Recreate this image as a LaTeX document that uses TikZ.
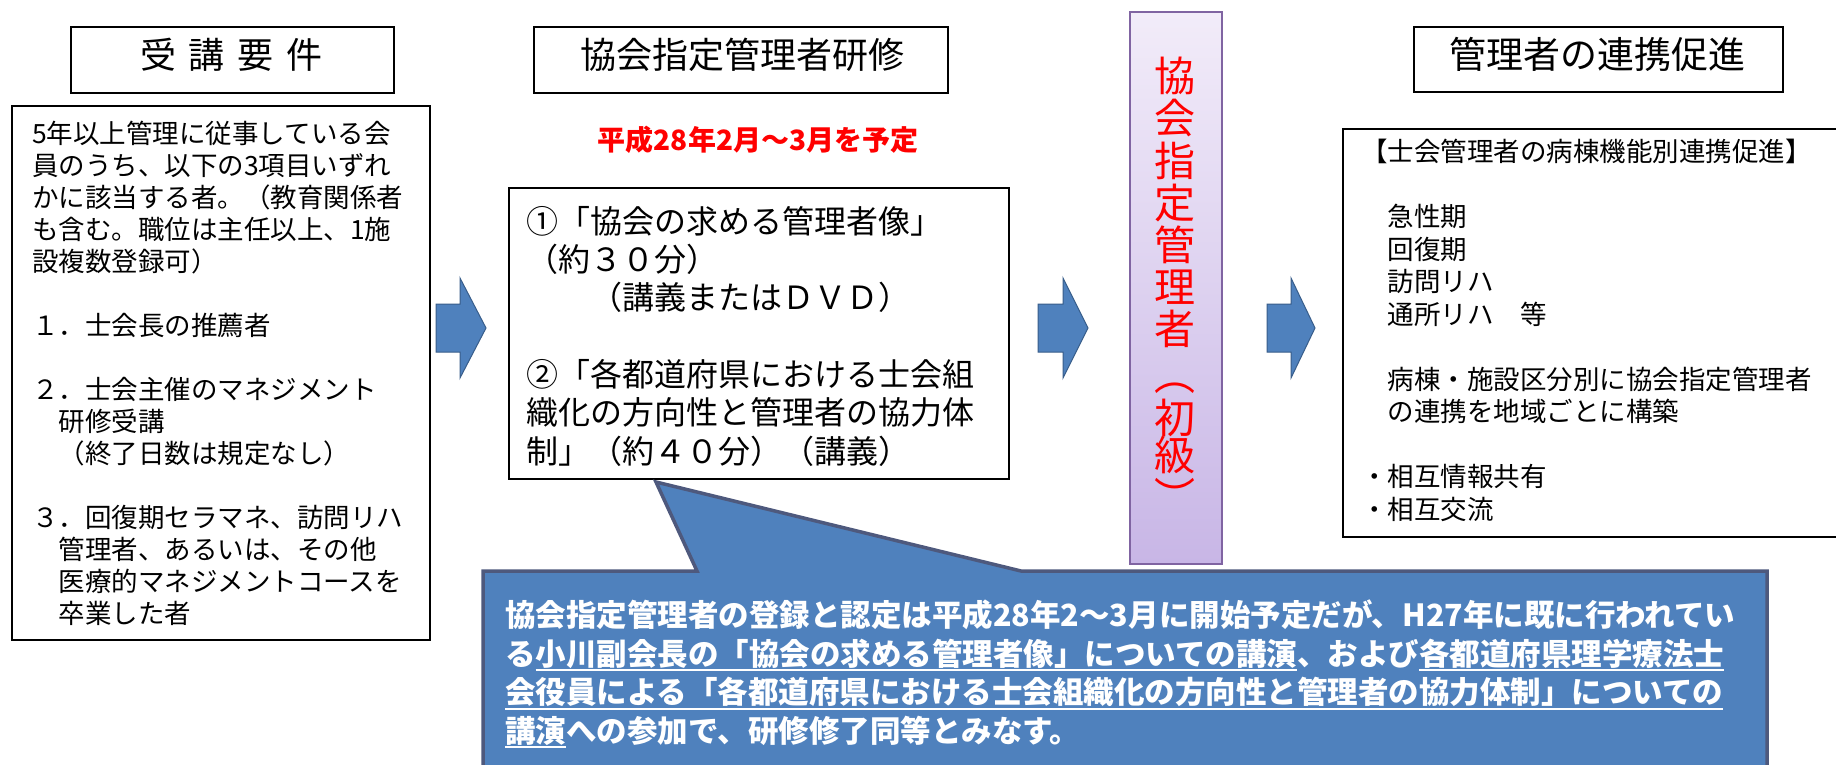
\documentclass[tikz,border=0pt]{standalone}
\usepackage{fontspec}
\newfontfamily\jp{Noto Sans CJK JP}
\usetikzlibrary{shadings}
\definecolor{arrowblue}{HTML}{4F81BD}
\definecolor{arrowedge}{HTML}{385D8A}
\definecolor{calloutfill}{HTML}{4F81BD}
\definecolor{calloutedge}{RGB}{78,89,125}
\definecolor{bartop}{HTML}{F2ECF9}
\definecolor{barbottom}{HTML}{C8B6E6}
\definecolor{baredge}{HTML}{8064A2}
\definecolor{datered}{HTML}{FF0000}
\newsavebox\ulbox
\newcommand\whiteul[1]{\sbox\ulbox{#1}\rlap{\rule[-6pt]{\wd\ulbox}{2pt}}\usebox\ulbox}
\newcommand\blockarrow[3]{%
  \draw[blockarrowstyle] (#1,304) -- (#2,304) -- (#2,278) -- (#3,328) -- (#2,378) -- (#2,352) -- (#1,352) -- cycle;}
\tikzset{
  framebox/.style={draw=black, line width=2.2pt, fill=white, inner sep=0pt, anchor=north west},
  titletext/.style={inner sep=0pt, font=\jp\fontsize{36}{36}\selectfont},
  bodytext/.style={inner sep=0pt, anchor=north west, align=left},
  blockarrowstyle/.style={fill=arrowblue, draw=arrowedge, line width=1pt, line join=miter},
  vchar/.style={inner sep=0pt, anchor=base, text=datered, font=\jp\fontsize{41}{41}\selectfont},
  calloutstyle/.style={fill=calloutfill, draw=calloutedge, line width=3.5pt, line join=miter},
}
\begin{document}
\begin{tikzpicture}[x=1pt,y=-1pt]
\useasboundingbox (0,0) rectangle (1836,765);
\clip (0,0) rectangle (1836,765);
\fill[white] (0,0) rectangle (1836,765);

% titles
\node[framebox, minimum width=323pt, minimum height=66pt] (t1) at (70,26) {};
\node[titletext] (t1txt) at (231.5,55) {受\hspace{13pt}講\hspace{13pt}要\hspace{13pt}件};
\node[framebox, minimum width=414pt, minimum height=66pt] (t2) at (533,26) {};
\node[titletext] (t2txt) at (742,55) {協会指定管理者研修};
\node[framebox, minimum width=369pt, minimum height=65pt] (t4) at (1413,26) {};
\node[titletext, font=\jp\fontsize{37}{37}\selectfont] (t4txt) at (1597,54) {管理者の連携促進};

% left box
\node[framebox, minimum width=418pt, minimum height=534pt] (req) at (11,105) {};
\node[bodytext, font=\jp\fontsize{26.5}{32}\selectfont] (reqtxt) at (32,121) {%
5年以上管理に従事している会\\
員のうち、以下の3項目いずれ\\
かに該当する者。（教育関係者\\
も含む。職位は主任以上、1施\\
設複数登録可）\\[32pt]
１．士会長の推薦者\\[32pt]
２．士会主催のマネジメント\\
　研修受講\\
　（終了日数は規定なし）\\[32pt]
３．回復期セラマネ、訪問リハ\\
　管理者、あるいは、その他\\
　医療的マネジメントコースを\\
　卒業した者};

% date
\node[inner sep=0pt, text=datered, font=\jp\bfseries\fontsize{28}{28}\selectfont] (date) at (758,140) {平成28年2月～3月を予定};

% middle box
\node[framebox, minimum width=500pt, minimum height=291pt] (mid) at (508,187) {};
\node[bodytext, font=\jp\fontsize{32}{38.3}\selectfont] (midtxt) at (526,206) {%
①「協会の求める管理者像」\\
（約３０分）\\
　　（講義またはＤＶＤ）\\[38.3pt]
②「各都道府県における士会組\\
織化の方向性と管理者の協力体\\
制」（約４０分）（講義）};

% arrows
\blockarrow{436}{460}{486}
\blockarrow{1038}{1063}{1088}
\blockarrow{1267}{1291}{1315}

% purple bar
\node[draw=baredge, line width=2pt, top color=bartop, bottom color=barbottom, anchor=north west, inner sep=0pt, minimum width=92pt, minimum height=552pt] (bar) at (1129,11) {};
\foreach \ch/\yy [count=\i] in {協/92,会/134,指/176,定/218,管/260,理/302,者/344,︵/390,初/433,級/470,︶/512}
  \node[vchar] (v\i) at (1175,\yy) {\ch};

% right box
\node[framebox, minimum width=520pt, minimum height=408pt] (coop) at (1342,128) {};
\node[bodytext, font=\jp\fontsize{26.5}{32.5}\selectfont] (cooptxt) at (1361,139) {%
【士会管理者の病棟機能別連携促進】\\[32.5pt]
　急性期\\
　回復期\\
　訪問リハ\\
　通所リハ　等\\[32.5pt]
　病棟・施設区分別に協会指定管理者\\
　の連携を地域ごとに構築\\[32.5pt]
・相互情報共有\\
・相互交流};

% callout
\draw[calloutstyle] (483,571) -- (697,571) -- (656,482) -- (1021,571) -- (1767,571) -- (1767,800) -- (483,800) -- cycle;
\node[bodytext, text=white, font=\jp\bfseries\fontsize{30.5}{38.5}\selectfont] (note) at (505,600) {%
協会指定管理者の登録と認定は平成28年2～3月に開始予定だが、H27年に既に行われてい\\
る\whiteul{小川副会長の「協会の求める管理者像」についての講演}、および\whiteul{各都道府県理学療法士}\\
\whiteul{会役員による「各都道府県における士会組織化の方向性と管理者の協力体制」についての}\\
\whiteul{講演}への参加で、研修修了同等とみなす。};
\end{tikzpicture}
\end{document}
